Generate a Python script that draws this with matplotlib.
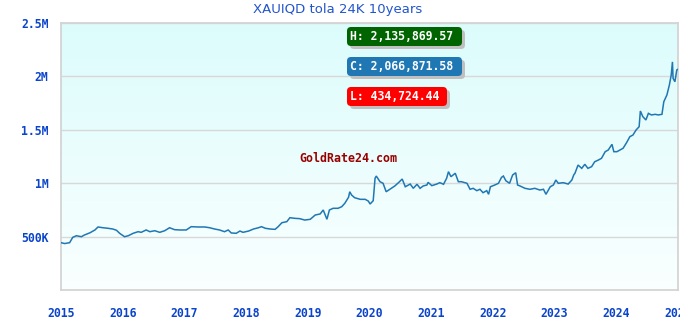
import numpy as np
import matplotlib
matplotlib.use("Agg")
import matplotlib.pyplot as plt
from matplotlib.patches import FancyBboxPatch
from matplotlib.transforms import IdentityTransform
from matplotlib.ticker import FuncFormatter

# ---- data (decimal year, price in thousands IQD) ----
years = [2015.00, 2015.06, 2015.14, 2015.19, 2015.25, 2015.33, 2015.38, 2015.47, 2015.55, 2015.60,
         2015.68, 2015.76, 2015.84, 2015.90, 2015.95, 2016.03, 2016.09, 2016.17, 2016.25, 2016.30,
         2016.38, 2016.44, 2016.52, 2016.60, 2016.68, 2016.76, 2016.84, 2016.92, 2017.03, 2017.11,
         2017.22, 2017.33, 2017.41, 2017.49, 2017.57, 2017.65, 2017.71, 2017.76, 2017.84, 2017.90,
         2017.95, 2018.04, 2018.12, 2018.20, 2018.25, 2018.31, 2018.39, 2018.47, 2018.52, 2018.58,
         2018.66, 2018.71, 2018.79, 2018.87, 2018.95, 2019.04, 2019.12, 2019.20, 2019.25, 2019.31,
         2019.35, 2019.41, 2019.49, 2019.55, 2019.60, 2019.66, 2019.68, 2019.71, 2019.76, 2019.85,
         2019.93, 2019.98, 2020.01, 2020.06, 2020.09, 2020.11, 2020.17, 2020.22, 2020.27, 2020.33,
         2020.41, 2020.47, 2020.53, 2020.58, 2020.66, 2020.71, 2020.77, 2020.82, 2020.87, 2020.93,
         2020.95, 2021.01, 2021.09, 2021.14, 2021.20, 2021.25, 2021.28, 2021.32, 2021.39, 2021.44,
         2021.49, 2021.58, 2021.63, 2021.68, 2021.74, 2021.79, 2021.84, 2021.90, 2021.93, 2021.96,
         2022.03, 2022.09, 2022.14, 2022.17, 2022.21, 2022.27, 2022.32, 2022.37, 2022.40, 2022.44,
         2022.52, 2022.60, 2022.68, 2022.76, 2022.82, 2022.86, 2022.93, 2022.98, 2023.02, 2023.06,
         2023.14, 2023.22, 2023.28, 2023.31, 2023.33, 2023.36, 2023.38, 2023.44, 2023.49, 2023.54,
         2023.60, 2023.65, 2023.71, 2023.76, 2023.82, 2023.87, 2023.93, 2023.96, 2024.01, 2024.06,
         2024.11, 2024.17, 2024.22, 2024.27, 2024.32, 2024.37, 2024.39, 2024.43, 2024.48, 2024.52,
         2024.57, 2024.63, 2024.68, 2024.74, 2024.77, 2024.82, 2024.86, 2024.89, 2024.91, 2024.92,
         2024.95, 2024.98, 2025.00]
prices_k = [443, 435, 443, 493, 508, 499, 515, 536, 562, 590,
            583, 578, 571, 559, 531, 499, 508, 531, 546, 540,
            562, 546, 555, 540, 555, 583, 565, 562, 562, 593,
            590, 590, 583, 571, 562, 546, 562, 534, 531, 552,
            540, 552, 571, 583, 593, 578, 571, 568, 593, 630,
            640, 677, 671, 668, 655, 662, 702, 712, 749, 662,
            749, 765, 765, 780, 812, 868, 920, 889, 864, 849,
            849, 833, 805, 836, 1046, 1067, 1014, 999, 920, 943,
            974, 1005, 1039, 967, 992, 952, 990, 952, 974, 983,
            1008, 977, 992, 1005, 990, 1046, 1108, 1061, 1093, 1014,
            1014, 999, 943, 952, 930, 943, 911, 930, 896, 967,
            983, 999, 1055, 1067, 1023, 999, 1077, 1098, 983, 974,
            952, 943, 952, 936, 943, 896, 967, 983, 1030, 999,
            1005, 992, 1030, 1077, 1093, 1139, 1170, 1139, 1177, 1139,
            1155, 1201, 1217, 1233, 1295, 1311, 1364, 1295, 1295, 1311,
            1327, 1383, 1436, 1451, 1498, 1529, 1676, 1623, 1592, 1654,
            1639, 1645, 1639, 1645, 1763, 1826, 1919, 2013, 2136, 1982,
            1950, 2060, 2067]

title = "XAUIQD tola 24K 10years"
x_ticks = [2015, 2016, 2017, 2018, 2019, 2020, 2021, 2022, 2023, 2024, 2025]
y_ticks = [500000, 1000000, 1500000, 2000000, 2500000]
y_tick_labels = ["500K", "1M", "1.5M", "2M", "2.5M"]
stat_labels = ["H: 2,135,869.57", "C: 2,066,871.58", "L: 434,724.44"]
stat_colors = ["#006400", "#1f77b4", "#ff0000"]
watermark = "GoldRate24.com"

W, H = 680, 320
fig = plt.figure(figsize=(W / 100, H / 100), dpi=100)
fig.patch.set_facecolor("white")
ax = fig.add_axes([61 / W, 1 - 290 / H, (678 - 61) / W, (290 - 23) / H])

# gradient background
top = np.array([0xdc, 0xfc, 0xfc]) / 255.0
bot = np.array([0xfa, 0xff, 0xff]) / 255.0
t = np.linspace(0, 1, 256)[:, None]
grad = (top[None, :] * (1 - t) + bot[None, :] * t)[:, None, :]
ax.imshow(grad, extent=[0, 1, 0, 1], transform=ax.transAxes, aspect="auto", zorder=0)

prices = np.array(prices_k) * 1000.0
ax.plot(years, prices, color="#1f77b4", lw=1.1, zorder=3, solid_joinstyle="miter")

ax.set_xlim(2015, 2025)
ax.set_ylim(0, 2500000)
ax.set_xticks(x_ticks)
ax.set_xticklabels([str(y) for y in x_ticks])
ax.set_yticks(y_ticks)
ax.set_yticklabels(y_tick_labels)
ax.grid(axis="y", color="#d8d8d8", lw=1.0, zorder=1)
ax.set_axisbelow(True)
for s in ax.spines.values():
    s.set_color("#d4d4d4")
    s.set_linewidth(1.3)
tick_color = "#0a44cc"
ax.tick_params(axis="both", length=0, colors=tick_color, labelsize=8.3)
ax.tick_params(axis="y", pad=9)
ax.tick_params(axis="x", pad=12)
for lab in ax.get_xticklabels() + ax.get_yticklabels():
    lab.set_family("DejaVu Sans Mono")
    lab.set_fontweight("bold")
    lab.set_color(tick_color)

fig.text(338 / W, 1 - 10 / H, title, ha="center", va="center", fontsize=9.5,
         color="#2255cc", family="DejaVu Sans")

# watermark
fig.text(348 / W, 1 - 158 / H, watermark, ha="center", va="center", fontsize=8.4,
         color="#990000", family="DejaVu Sans Mono", fontweight="bold")

# stat boxes (pixel coordinates, origin top-left converted)
ident = IdentityTransform()
boxes = [(347, 27, 115, 19), (347, 57, 115, 19), (347, 87, 100, 19)]
for (bx, by, bw, bh), lbl, col in zip(boxes, stat_labels, stat_colors):
    y0 = H - by - bh
    shadow = FancyBboxPatch((bx + 3, y0 - 3), bw, bh, boxstyle="round,pad=0,rounding_size=4",
                            transform=ident, facecolor="#c0c0c0", edgecolor="none")
    box = FancyBboxPatch((bx, y0), bw, bh, boxstyle="round,pad=0,rounding_size=4",
                         transform=ident, facecolor=col, edgecolor="none")
    fig.patches.extend([shadow, box])
    fig.text((bx + 3) / W, (y0 + bh / 2) / H, lbl, ha="left", va="center", fontsize=8.3,
             color="white", family="DejaVu Sans Mono", fontweight="bold")

fig.savefig("out.png", dpi=100)
